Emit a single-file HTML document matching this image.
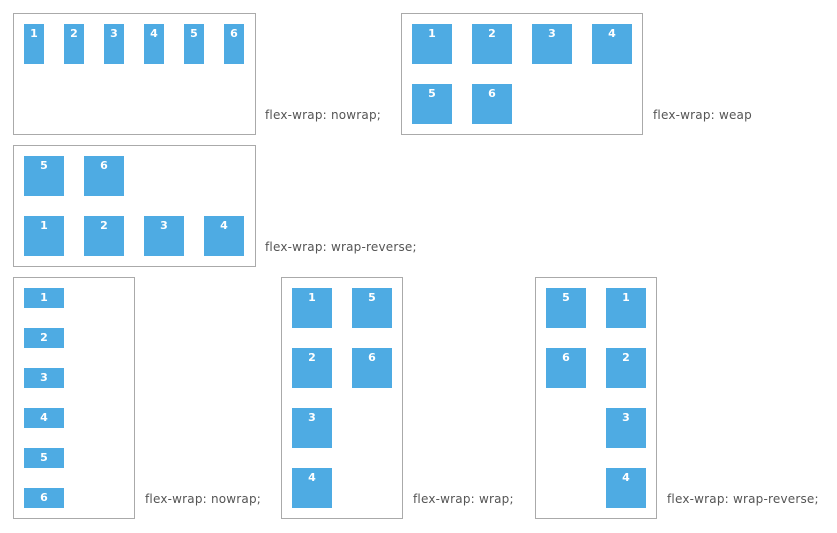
<!DOCTYPE html>
<html><head><meta charset="utf-8"><style>
body{margin:0;width:837px;height:533px;background:#fff;position:relative;font-family:"DejaVu Sans","Liberation Sans",sans-serif;overflow:hidden}
.b{position:absolute;border:1px solid #aaa;box-sizing:border-box}
.i{position:absolute;background:#4eabe3;color:#fff;font-size:11px;font-weight:bold;text-align:center;line-height:14px;padding-top:3px;box-sizing:border-box}
.l{position:absolute;font-size:12px;letter-spacing:0.2px;color:#555;white-space:nowrap;line-height:14px}
</style></head><body>
<div class="b" style="left:13px;top:13px;width:243px;height:122px"></div>
<div class="i" style="left:24px;top:24px;width:20px;height:40px">1</div>
<div class="i" style="left:64px;top:24px;width:20px;height:40px">2</div>
<div class="i" style="left:104px;top:24px;width:20px;height:40px">3</div>
<div class="i" style="left:144px;top:24px;width:20px;height:40px">4</div>
<div class="i" style="left:184px;top:24px;width:20px;height:40px">5</div>
<div class="i" style="left:224px;top:24px;width:20px;height:40px">6</div>
<div class="l" style="left:265px;top:108px">flex-wrap: nowrap;</div>

<div class="b" style="left:401px;top:13px;width:242px;height:122px"></div>
<div class="i" style="left:412px;top:24px;width:40px;height:40px">1</div>
<div class="i" style="left:472px;top:24px;width:40px;height:40px">2</div>
<div class="i" style="left:532px;top:24px;width:40px;height:40px">3</div>
<div class="i" style="left:592px;top:24px;width:40px;height:40px">4</div>
<div class="i" style="left:412px;top:84px;width:40px;height:40px">5</div>
<div class="i" style="left:472px;top:84px;width:40px;height:40px">6</div>
<div class="l" style="left:653px;top:108px">flex-wrap: weap</div>

<div class="b" style="left:13px;top:145px;width:243px;height:122px"></div>
<div class="i" style="left:24px;top:156px;width:40px;height:40px">5</div>
<div class="i" style="left:84px;top:156px;width:40px;height:40px">6</div>
<div class="i" style="left:24px;top:216px;width:40px;height:40px">1</div>
<div class="i" style="left:84px;top:216px;width:40px;height:40px">2</div>
<div class="i" style="left:144px;top:216px;width:40px;height:40px">3</div>
<div class="i" style="left:204px;top:216px;width:40px;height:40px">4</div>
<div class="l" style="left:265px;top:240px">flex-wrap: wrap-reverse;</div>

<div class="b" style="left:13px;top:277px;width:122px;height:242px"></div>
<div class="i" style="left:24px;top:288px;width:40px;height:20px">1</div>
<div class="i" style="left:24px;top:328px;width:40px;height:20px">2</div>
<div class="i" style="left:24px;top:368px;width:40px;height:20px">3</div>
<div class="i" style="left:24px;top:408px;width:40px;height:20px">4</div>
<div class="i" style="left:24px;top:448px;width:40px;height:20px">5</div>
<div class="i" style="left:24px;top:488px;width:40px;height:20px">6</div>
<div class="l" style="left:145px;top:492px">flex-wrap: nowrap;</div>

<div class="b" style="left:281px;top:277px;width:122px;height:242px"></div>
<div class="i" style="left:292px;top:288px;width:40px;height:40px">1</div>
<div class="i" style="left:352px;top:288px;width:40px;height:40px">5</div>
<div class="i" style="left:292px;top:348px;width:40px;height:40px">2</div>
<div class="i" style="left:352px;top:348px;width:40px;height:40px">6</div>
<div class="i" style="left:292px;top:408px;width:40px;height:40px">3</div>
<div class="i" style="left:292px;top:468px;width:40px;height:40px">4</div>
<div class="l" style="left:413px;top:492px">flex-wrap: wrap;</div>

<div class="b" style="left:535px;top:277px;width:122px;height:242px"></div>
<div class="i" style="left:546px;top:288px;width:40px;height:40px">5</div>
<div class="i" style="left:606px;top:288px;width:40px;height:40px">1</div>
<div class="i" style="left:546px;top:348px;width:40px;height:40px">6</div>
<div class="i" style="left:606px;top:348px;width:40px;height:40px">2</div>
<div class="i" style="left:606px;top:408px;width:40px;height:40px">3</div>
<div class="i" style="left:606px;top:468px;width:40px;height:40px">4</div>
<div class="l" style="left:667px;top:492px">flex-wrap: wrap-reverse;</div>
</body></html>
